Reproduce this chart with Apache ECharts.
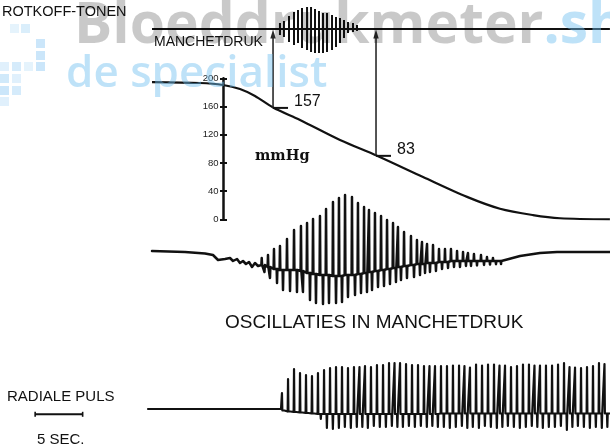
<!DOCTYPE html>
<html><head><meta charset="utf-8">
<script src="https://cdn.jsdelivr.net/npm/echarts@6/dist/echarts.min.js"></script>
<style>html,body{margin:0;padding:0;background:#fff}#c{width:610px;height:446px}</style>
</head><body><div id="c"></div>
<script>
// ---------- data (time in seconds) ----------
const timeMin = -16, timeMax = 48.21;
const traceStart = 0, traceEnd = 48.2, radialStart = -0.42;

// Korotkoff sounds: time, upper and lower excursion
const korT    = [13.47,13.89,14.42,14.95,15.37,15.79,16.32,16.74,17.16,17.58,18.0,18.42,18.95,19.37,19.79,20.21,20.63,21.16,21.58];
const korUp   = [0.6,0.8,1.3,1.7,1.9,2.1,2.2,2.2,2.0,1.8,1.6,1.6,1.4,1.2,1.1,0.9,0.7,0.6,0.4];
const korDown = [-0.6,-0.8,-1.3,-1.6,-1.4,-1.9,-2.1,-2.3,-2.4,-2.4,-2.4,-2.3,-2.1,-1.8,-1.4,-0.9,-0.4,-0.3,-0.2];

// cuff pressure (mmHg)
const pressT = [0,5.05,7.47,9.26,10.84,12.74,15.58,19.79,23.68,28.53,33.16,36.63,40.1,42.95,48.2];
const pressV = [194.7,193.3,190.5,184.8,174.9,158.6,140.9,112.5,90.2,60,31.8,15,6,1.5,0];
const pressTicks = [0,40,80,120,160,200];

// systolic / diastolic markers
const markT     = [12.74, 23.58];
const markCurve = [158, 90];
const markLabel = ['157', '83'];

// cuff pressure oscillations
const oscLeadT = [0,3.47,5.58,6.42,6.95,7.68,8.21,8.53,8.95,9.26,9.58,9.89,10.21,10.53,10.84,11.16];
const oscLeadV = [0,-0.05,-0.12,-0.2,-0.45,-0.4,-0.35,-0.5,-0.4,-0.6,-0.5,-0.65,-0.55,-0.8,-0.6,-0.75];
const oscUpT = [11.55,12.21,12.84,13.47,14.21,14.95,15.68,16.32,16.95,17.68,18.32,19.05,19.68,20.32,21.05,21.68,22.32,22.84,23.47,24.11,24.74,25.37,25.89,26.53,27.26,27.89,28.42,28.95,29.58,30.21,30.84,31.47,32.11,32.74,33.26,33.89,34.63,35.26,35.89,36.42];
const oscTop = [-0.35,-0.2,0.1,0.25,0.6,1.05,1.25,1.4,1.6,1.75,2.1,2.45,2.65,2.8,2.7,2.4,2.2,2.05,1.9,1.75,1.55,1.4,1.2,0.95,0.75,0.55,0.45,0.35,0.3,0.1,0.1,0.1,0,-0.05,-0.1,-0.15,-0.2,-0.3,-0.35,-0.4];
const oscDownT = [11.84,12.42,13.16,13.79,14.53,15.26,15.89,16.63,17.26,18.0,18.63,19.37,20.0,20.63,21.37,22.0,22.63,23.16,23.79,24.42,25.05,25.68,26.21,26.84,27.58,28.21,28.74,29.26,29.89,30.53,31.16,31.79,32.42,33.05,33.58,34.21,34.95,35.58,36.21,36.74];
const oscBottom = [-1.05,-1.35,-1.6,-1.95,-2.0,-2.05,-2.05,-2.45,-2.6,-2.65,-2.6,-2.6,-2.55,-2.3,-2.2,-2.1,-2.05,-1.95,-1.8,-1.75,-1.65,-1.55,-1.45,-1.35,-1.3,-1.2,-1.1,-1.05,-1.0,-0.9,-0.85,-0.8,-0.8,-0.75,-0.75,-0.72,-0.7,-0.68,-0.66,-0.65];
const oscMid = [-0.7,-0.8,-0.9,-0.95,-0.95,-0.95,-1.0,-1.1,-1.15,-1.2,-1.2,-1.25,-1.25,-1.2,-1.2,-1.15,-1.1,-1.05,-1.0,-0.95,-0.9,-0.85,-0.8,-0.75,-0.7,-0.65,-0.65,-0.6,-0.6,-0.55,-0.55,-0.5,-0.5,-0.5,-0.5,-0.5,-0.5,-0.5,-0.5,-0.5];
const oscTailT = [36.95,38.74,40.84,42.63,48.2];
const oscTailV = [-0.4,-0.25,-0.1,-0.05,-0.05];

// radial pulse
const radUpT = [13.68,14.32,14.95,15.58,16.21,16.84,17.47,18.11,18.74,19.37,20.0,20.63,21.26,21.84,22.42,23.05,23.68,24.32,24.95,25.53,26.11,26.74,27.37,28.0,28.63,29.21,29.79,30.42,31.05,31.68,32.32,32.89,33.47,34.11,34.74,35.37,36.0,36.58,37.16,37.79,38.42,39.05,39.68,40.26,40.84,41.47,42.11,42.74,43.37,43.95,44.53,45.16,45.79,46.42,47.05,47.63];
const radTop = [1.6,3.0,4.0,3.6,3.4,3.3,3.6,3.9,4.1,4.2,4.2,4.1,4.2,4.2,4.3,4.2,4.4,4.4,4.6,4.6,4.6,4.5,4.4,4.4,4.3,4.3,4.3,4.3,4.3,4.35,4.35,4.3,4.15,4.45,4.35,4.45,4.45,4.35,4.35,4.2,4.3,4.45,4.45,4.35,4.35,4.35,4.35,4.45,4.6,4.2,4.15,4.1,4.2,4.3,4.6,4.5];
const radDownT = [13.98,14.62,15.25,15.88,16.51,17.14,17.77,18.41,19.04,19.67,20.3,20.93,21.56,22.14,22.72,23.35,23.98,24.62,25.25,25.83,26.41,27.04,27.67,28.3,28.93,29.51,30.09,30.72,31.35,31.98,32.62,33.19,33.77,34.41,35.04,35.67,36.3,36.88,37.46,38.09,38.72,39.35,39.98,40.56,41.14,41.77,42.41,43.04,43.67,44.25,44.83,45.46,46.09,46.72,47.35,47.93];
const radBottom = [-0.15,-0.3,-0.4,-0.45,-0.5,-0.55,-1.0,-1.9,-2.0,-1.9,-1.8,-1.9,-1.8,-1.8,-1.9,-1.7,-1.8,-1.8,-1.7,-1.8,-1.8,-1.7,-1.8,-1.7,-1.8,-1.7,-1.8,-1.8,-1.9,-1.8,-1.7,-1.9,-1.8,-1.9,-1.7,-1.8,-1.9,-1.8,-1.7,-1.8,-1.9,-1.8,-1.7,-1.8,-1.9,-1.8,-1.8,-1.7,-2.1,-1.8,-1.7,-1.8,-1.9,-1.8,-1.9,-1.8];
const radMid = [-0.15,-0.25,-0.3,-0.35,-0.4,-0.45,-0.5,-0.5,-0.5,-0.5,-0.5,-0.5,-0.5,-0.5,-0.5,-0.5,-0.5,-0.5,-0.5,-0.5,-0.5,-0.5,-0.5,-0.5,-0.5,-0.5,-0.5,-0.45,-0.45,-0.45,-0.45,-0.45,-0.45,-0.45,-0.45,-0.45,-0.45,-0.45,-0.45,-0.45,-0.45,-0.45,-0.45,-0.45,-0.45,-0.45,-0.45,-0.45,-0.45,-0.45,-0.45,-0.45,-0.45,-0.45,-0.45,-0.45];

// time scale bar (5 s)
const scaleBarStart = -12.3, scaleBarSec = 5, scaleBarLevel = -0.53;

// ---------- build ----------
const SPIKE = 0.04;
function buildTrace(leadT, leadV, upT, top, downT, bottom, mid, tailT, tailV) {
  const pts = leadT.map((t, i) => [t, leadV[i]]);
  for (let i = 0; i < upT.length; i++) {
    pts.push([upT[i] - SPIKE, mid[i]], [upT[i], top[i]], [upT[i] + SPIKE, mid[i]]);
    if (i < downT.length) pts.push([downT[i] - SPIKE, mid[i]], [downT[i], bottom[i]], [downT[i] + SPIKE, mid[i]]);
  }
  tailT.forEach((t, i) => pts.push([t, tailV[i]]));
  return pts;
}
const oscData = buildTrace(oscLeadT, oscLeadV, oscUpT, oscTop, oscDownT, oscBottom, oscMid, oscTailT, oscTailV);
const radData = buildTrace([radialStart, radUpT[0] - 0.1], [0, 0], radUpT, radTop, radDownT, radBottom, radMid, [traceEnd], [radMid[radMid.length - 1]]);
const korData = korT.map((t, i) => [t, korUp[i], korDown[i]]);
const pressData = pressT.map((t, i) => [t, pressV[i]]);

const INK = '#111';
const SANS = '"Liberation Sans", Arial, sans-serif';
const xAx = (g) => ({ gridIndex: g, type: 'value', min: timeMin, max: timeMax, show: false });
const yHidden = (g, mn, mx) => ({ gridIndex: g, type: 'value', min: mn, max: mx, show: false });

const chart = echarts.init(document.getElementById('c'), null, { renderer: 'canvas' });
const option = {
  animation: false,
  backgroundColor: '#fff',
  grid: [
    { left: 0, right: 0, top: 4, height: 50 },
    { left: 0, right: 0, top: 78.3, height: 141 },
    { left: 0, right: 0, top: 191, height: 120 },
    { left: 0, right: 0, top: 354, height: 85 },
    { left: 223.5, top: 78.3, height: 141, width: 20 }
  ],
  xAxis: [xAx(0), xAx(1), xAx(2), xAx(3), { gridIndex: 4, type: 'value', min: 0, max: 1, show: false }],
  yAxis: [
    yHidden(0, -2.5, 2.5),
    yHidden(1, 0, 200),
    yHidden(2, -3, 3),
    yHidden(3, -3, 5.5),
    { gridIndex: 4, type: 'value', min: 0, max: 200, interval: 40, position: 'left',
      axisLine: { show: true, lineStyle: { color: INK, width: 2.5 } },
      axisTick: { show: true, length: 3.5, lineStyle: { color: INK, width: 2 } },
      axisLabel: { color: '#222', fontSize: 9.5, margin: 5, fontFamily: SANS,
        customValues: pressTicks },
      splitLine: { show: false } },
    { gridIndex: 4, type: 'value', min: 0, max: 200, interval: 40, position: 'left',
      axisLine: { show: false },
      axisTick: { show: true, inside: true, length: 3.5, lineStyle: { color: INK, width: 2 } },
      axisLabel: { show: false }, splitLine: { show: false } }
  ],
  series: [
    { type: 'line', xAxisIndex: 0, yAxisIndex: 0, data: [[traceStart, 0], [traceEnd, 0]], showSymbol: false,
      lineStyle: { color: INK, width: 2.2 }, silent: true, z: 3 },
    { type: 'custom', xAxisIndex: 0, yAxisIndex: 0, data: korData, silent: true, z: 4,
      renderItem: (params, api) => {
        const a = api.coord([api.value(0), api.value(1)]);
        const b = api.coord([api.value(0), api.value(2)]);
        return { type: 'line', shape: { x1: a[0], y1: a[1], x2: b[0], y2: b[1] }, style: { stroke: INK, lineWidth: 2 } };
      } },
    { type: 'line', xAxisIndex: 1, yAxisIndex: 1, data: pressData, smooth: 0.3, showSymbol: false,
      lineStyle: { color: INK, width: 2.2 }, silent: true, z: 3 },
    { type: 'line', xAxisIndex: 2, yAxisIndex: 2, data: oscData, showSymbol: false, clip: false,
      lineStyle: { color: INK, width: 2.5, join: 'round', cap: 'round' }, silent: true, z: 3 },
    { type: 'line', xAxisIndex: 3, yAxisIndex: 3, data: radData, showSymbol: false, clip: false,
      lineStyle: { color: INK, width: 2.2, join: 'round', cap: 'round' }, silent: true, z: 3 },
    { type: 'line', xAxisIndex: 3, yAxisIndex: 3, data: [[scaleBarStart, scaleBarLevel], [scaleBarStart + scaleBarSec, scaleBarLevel]],
      symbol: 'rect', symbolSize: [1.6, 5], showSymbol: true, itemStyle: { color: INK },
      lineStyle: { color: INK, width: 2 }, silent: true, z: 3 }
  ]
};
chart.setOption(option);

// ---------- decorations & labels ----------
function txt(text, x, y, size, opts) {
  opts = opts || {};
  return { type: 'text', x: x, y: y, z: opts.z || 10, silent: true,
    style: { text: text, fill: opts.fill || INK, fontSize: size, fontFamily: opts.family || SANS,
      fontWeight: opts.weight || 'normal', textAlign: opts.align || 'left', align: opts.align || 'left',
      textVerticalAlign: 'middle', verticalAlign: 'middle' } };
}
const WM = '"Open Sans", "Noto Sans", sans-serif';
const cvs = document.createElement('canvas').getContext('2d');
cvs.font = 'bold 57px "Open Sans"';
const wmW = cvs.measureText('Bloeddrukmeter').width;

const gfx = [];
// watermark logo squares
const sq = [[10,24,0.5],[21,24,0.7],[36,39,1],[36,51,1],[0,62,0.6],[12,62,0.8],[24,62,0.5],[36,62,1],[0,74,0.9],[12,74,0.6],[0,86,1],[12,86,0.8],[0,97,0.6]];
sq.forEach(s => gfx.push({ type: 'rect', z: 0, silent: true, shape: { x: s[0], y: s[1], width: 9, height: 9 },
  style: { fill: 'rgba(160,210,245,' + (0.55 * s[2]) + ')' } }));
gfx.push(txt('Bloeddrukmeter', 74, 27, 57, { fill: 'rgba(0,0,0,0.21)', family: WM, weight: 'bold', z: 0 }));
gfx.push(txt('.shop', 74 + wmW, 27, 57, { fill: 'rgba(110,190,240,0.45)', family: WM, weight: 'bold', z: 0 }));
gfx.push(txt('de specialist', 66, 74, 44, { fill: 'rgba(110,190,240,0.45)', family: WM, weight: 600, z: 0 }));

gfx.push(txt('ROTKOFF-TONEN', 2, 12, 14.5));
gfx.push(txt('MANCHETDRUK', 154, 42, 14));
gfx.push(txt('mmHg', 255, 156, 14.5, { family: '"DejaVu Serif", serif', weight: 'bold' }));
gfx.push(txt('OSCILLATIES IN MANCHETDRUK', 225, 323, 19));
gfx.push(txt('RADIALE PULS', 7, 397, 15));
gfx.push(txt('5 SEC.', 37, 440, 15));

markT.forEach((t, i) => {
  const b = chart.convertToPixel({ gridIndex: 1 }, [t, markCurve[i]]);
  const top = chart.convertToPixel({ gridIndex: 0 }, [t, 0]);
  gfx.push({ type: 'line', z: 5, silent: true, shape: { x1: b[0], y1: b[1], x2: b[0], y2: top[1] + 7 },
    style: { stroke: '#2a2a2a', lineWidth: 1.6 } });
  gfx.push({ type: 'polygon', z: 5, silent: true,
    shape: { points: [[b[0], top[1] + 0.5], [b[0] - 2.7, top[1] + 9.5], [b[0] + 2.7, top[1] + 9.5]] },
    style: { fill: '#2a2a2a' } });
  gfx.push({ type: 'line', z: 5, silent: true, shape: { x1: b[0], y1: b[1], x2: b[0] + 15, y2: b[1] },
    style: { stroke: INK, lineWidth: 2 } });
  gfx.push(txt(markLabel[i], b[0] + 21, b[1] - 6, 16, { family: '"Liberation Sans Narrow", "Liberation Sans", Arial, sans-serif' }));
});
chart.setOption({ graphic: { elements: gfx } });
</script></body></html>
